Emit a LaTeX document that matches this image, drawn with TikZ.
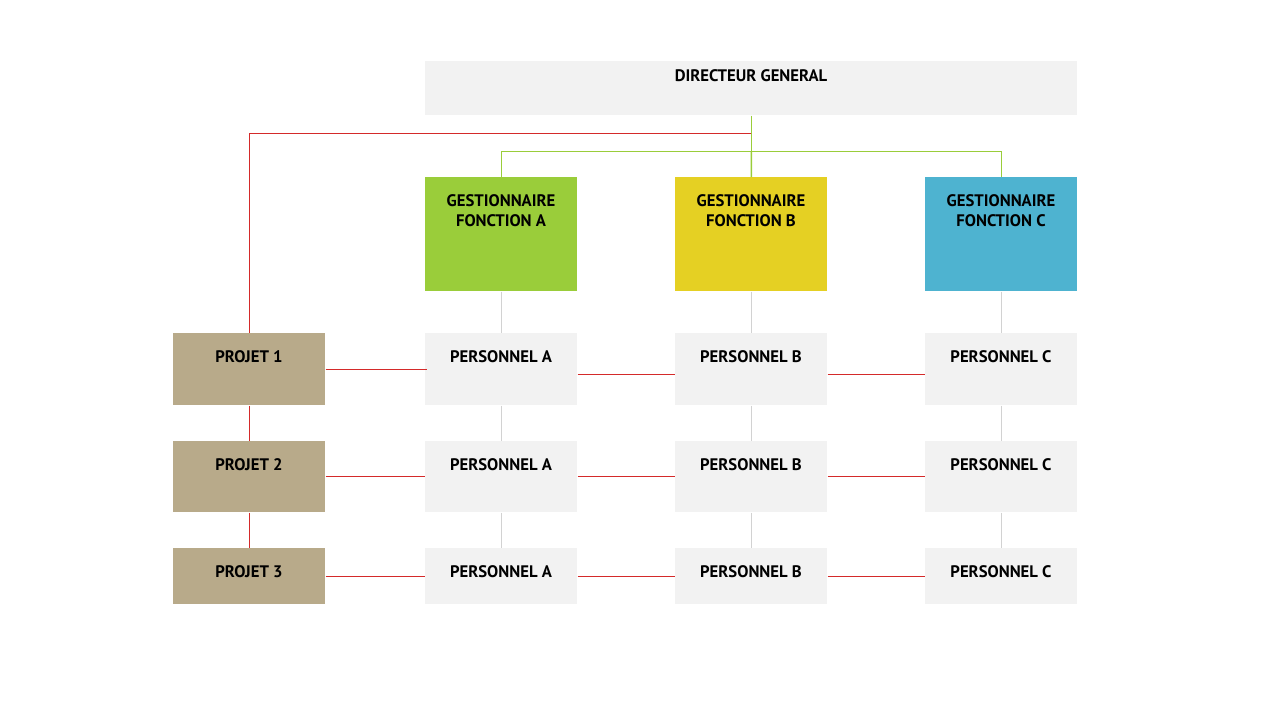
\documentclass[tikz,border=0pt]{standalone}
\usepackage{fontspec}
\setmainfont{PT Sans}
\usetikzlibrary{positioning}
\definecolor{boxgray}{HTML}{F2F2F2}
\definecolor{fgreen}{HTML}{9ACD3A}
\definecolor{fyellow}{HTML}{E5D023}
\definecolor{fblue}{HTML}{4EB3D0}
\definecolor{projtan}{HTML}{B8AA8A}
\definecolor{redline}{HTML}{D42A2A}
\definecolor{greenline}{HTML}{9ACD3A}
\tikzset{
  box/.style={anchor=north west, minimum width=3.04cm, inner sep=0pt},
  txt/.style={anchor=north, font=\bfseries\fontsize{9.5}{11.5}\selectfont, align=center, inner sep=0pt},
  red/.style={draw=redline, line width=0.6pt},
  grn/.style={draw=greenline, line width=0.8pt},
  gry/.style={draw=gray!35, line width=0.6pt}
}
\begin{document}
\begin{tikzpicture}[x=0.02cm, y=-0.02cm]
    \useasboundingbox (0,0) rectangle (1280,721);
    
    % Draw the director
    \node[box, fill=boxgray, minimum width=13.04cm, minimum height=1.08cm] (dg) at (425,61) {};
    \node[txt] (dgt) at (751,69) {DIRECTEUR GENERAL};
    
    % Draw the managers
    \node[box, fill=fgreen, minimum height=2.28cm] (ga) at (425,177) {};
    \node[box, fill=fyellow, minimum height=2.28cm] (gb) at (675,177) {};
    \node[box, fill=fblue, minimum height=2.28cm] (gc) at (925,177) {};
    \node[txt] (gat) at (501,194) {GESTIONNAIRE\\FONCTION A};
    \node[txt] (gbt) at (751,194) {GESTIONNAIRE\\FONCTION B};
    \node[txt] (gct) at (1001,194) {GESTIONNAIRE\\FONCTION C};
    
    % Draw the projects and staff
    \foreach \r/\y/\h in {1/333/1.44cm, 2/441/1.42cm, 3/548/1.12cm} {
      \node[box, fill=projtan, minimum height=\h] (p\r) at (173,\y) {};
      \node[box, fill=boxgray, minimum height=\h] (a\r) at (425,\y) {};
      \node[box, fill=boxgray, minimum height=\h] (b\r) at (675,\y) {};
      \node[box, fill=boxgray, minimum height=\h] (c\r) at (925,\y) {};
      \node[txt] (pt\r) at (249,\y+17) {PROJET \r};
      \node[txt] (at\r) at (501,\y+17) {PERSONNEL A};
      \node[txt] (bt\r) at (751,\y+17) {PERSONNEL B};
      \node[txt] (ct\r) at (1001,\y+17) {PERSONNEL C};
    }
    
    % Draw connections
    \draw[grn] (dg.south) -- ++(0,36) coordinate (hub);
    \draw[grn] (ga.north) |- (hub) -| (gc.north);
    \draw[grn] (hub) -- (gb.north);
    \draw[red] (dg.south) ++(0,18) coordinate (rt) -| (p1.north);
    \draw[red] (p1) -- (p2) -- (p3);
    \foreach \c in {a,b,c} {
      \draw[gry] (g\c) -- (\c1);
      \draw[gry] (\c1) -- (\c2);
      \draw[gry] (\c2) -- (\c3);
    }
    \draw[red] (p1.east) ++(0,0.2) -- ++(101,0) coordinate (r1a);
    \draw[red] ([yshift=-0.1cm]a1.east) -- ([yshift=-0.1cm]b1.west);
    \draw[red] ([yshift=-0.1cm]b1.east) -- ([yshift=-0.1cm]c1.west);
    \foreach \r in {2,3} {
      \draw[red] (p\r.east) -- (a\r.west);
      \draw[red] (a\r.east) -- (b\r.west);
      \draw[red] (b\r.east) -- (c\r.west);
    }
\end{tikzpicture}
\end{document}
